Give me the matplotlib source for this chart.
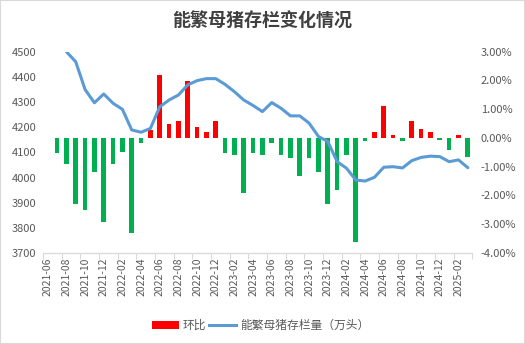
import matplotlib
matplotlib.use('Agg')

import numpy as np
import pandas as pd
import matplotlib.pyplot as plt
from matplotlib.patches import Patch, Rectangle
from matplotlib.lines import Line2D

plt.rcParams['font.family'] = ['Noto Sans CJK SC', 'DejaVu Sans']

# Monthly categories, 2021-06 .. 2025-03
months = [p.strftime('%Y-%m') for p in pd.period_range('2021-06', '2025-03', freq='M')]

# Breeding sow inventory (10k head)
sow_stock = [np.nan, np.nan, 4500, 4460, 4350, 4297, 4332, 4295, 4271, 4189,
             4180, 4195, 4281, 4308, 4328, 4368, 4385, 4393, 4393, 4370,
             4341, 4308, 4286, 4262, 4298, 4275, 4245, 4245, 4216, 4163,
             4143, 4063, 4037, 3990, 3986, 4001, 4041, 4043, 4038, 4067,
             4080, 4085, 4083, 4063, 4070, 4039]

# Month-on-month change (%)
mom_pct = [np.nan, -0.52, -0.89, -2.28, -2.49, -1.20, -2.92, -0.89, -0.50, -3.29,
           -0.19, 0.27, 2.19, 0.48, 0.60, 1.99, 0.37, 0.21, 0.60, -0.52,
           -0.60, -1.91, -0.52, -0.60, -0.19, -0.60, -0.68, -1.32, -0.68, -1.20,
           -2.28, -1.80, -0.60, -3.62, -0.10, 0.21, 1.11, 0.12, -0.10, 0.60,
           0.30, 0.21, -0.08, -0.43, 0.10, -0.66]

RED = '#ff0000'
GREEN = '#00b050'
BLUE = '#5b9bd5'
GREY = '#595959'

x = np.arange(len(months))
fig = plt.figure(figsize=(5.25, 3.44), dpi=100)
fig.patches.append(Rectangle((0, 0), 1, 1, transform=fig.transFigure, fill=False,
                             edgecolor='#d9d9d9', linewidth=1.5))

# bars on the primary axes (labels on the right), line on the twin (labels on the left)
ax = fig.add_axes([0.082, 0.2645, 0.818, 0.5852])
ax2 = ax.twinx()

colors = [RED if (v >= 0) else GREEN for v in np.nan_to_num(mom_pct)]
ax.bar(x, mom_pct, width=0.5, color=colors, zorder=2)
ax.set_ylim(-4, 3)
ax.set_yticks(np.arange(-4, 3.01, 1))
ax.set_yticklabels([f'{v:.2f}%' for v in np.arange(-4, 3.01, 1)])

ax2.plot(x, sow_stock, color=BLUE, linewidth=2.2, solid_capstyle='round', zorder=3)
ax2.set_ylim(3700, 4500)
ax2.set_yticks(np.arange(3700, 4501, 100))

ax.yaxis.tick_right()
ax2.yaxis.tick_left()

ax.set_xlim(-0.5, len(months) - 0.5)
ax.set_xticks(np.arange(-0.5, len(months), 2))
ax.set_xticklabels([])
ax.set_xticks(x[::2], minor=True)
ax.set_xticklabels(months[::2], minor=True, rotation=90, fontsize=7.5, color=GREY)
ax.tick_params(axis='x', which='major', length=4, color='#d9d9d9')
ax.tick_params(axis='x', which='minor', length=0, pad=3)
ax.tick_params(axis='y', length=0, labelsize=8, labelcolor=GREY, pad=6)
ax2.tick_params(axis='y', length=0, labelsize=8, labelcolor=GREY, pad=5)

for a in (ax, ax2):
    for side in ('top', 'left', 'right'):
        a.spines[side].set_visible(False)
    a.spines['bottom'].set_color('#d9d9d9')

fig.text(0.499, 0.937, '能繁母猪存栏变化情况', ha='center', va='center',
         fontsize=13, fontweight='bold', color='#404040')

handles = [Patch(facecolor=RED, edgecolor='none'),
           Line2D([0], [0], color=BLUE, linewidth=2.2)]
fig.legend(handles, ['环比', '能繁母猪存栏量（万头）'], loc='center',
           bbox_to_anchor=(0.496, 0.053), ncol=2, frameon=False, fontsize=8.5,
           handlelength=2.3, handleheight=0.6, handletextpad=0.3, columnspacing=0.3,
           labelcolor=GREY)

fig.savefig('out.png', dpi=100)
